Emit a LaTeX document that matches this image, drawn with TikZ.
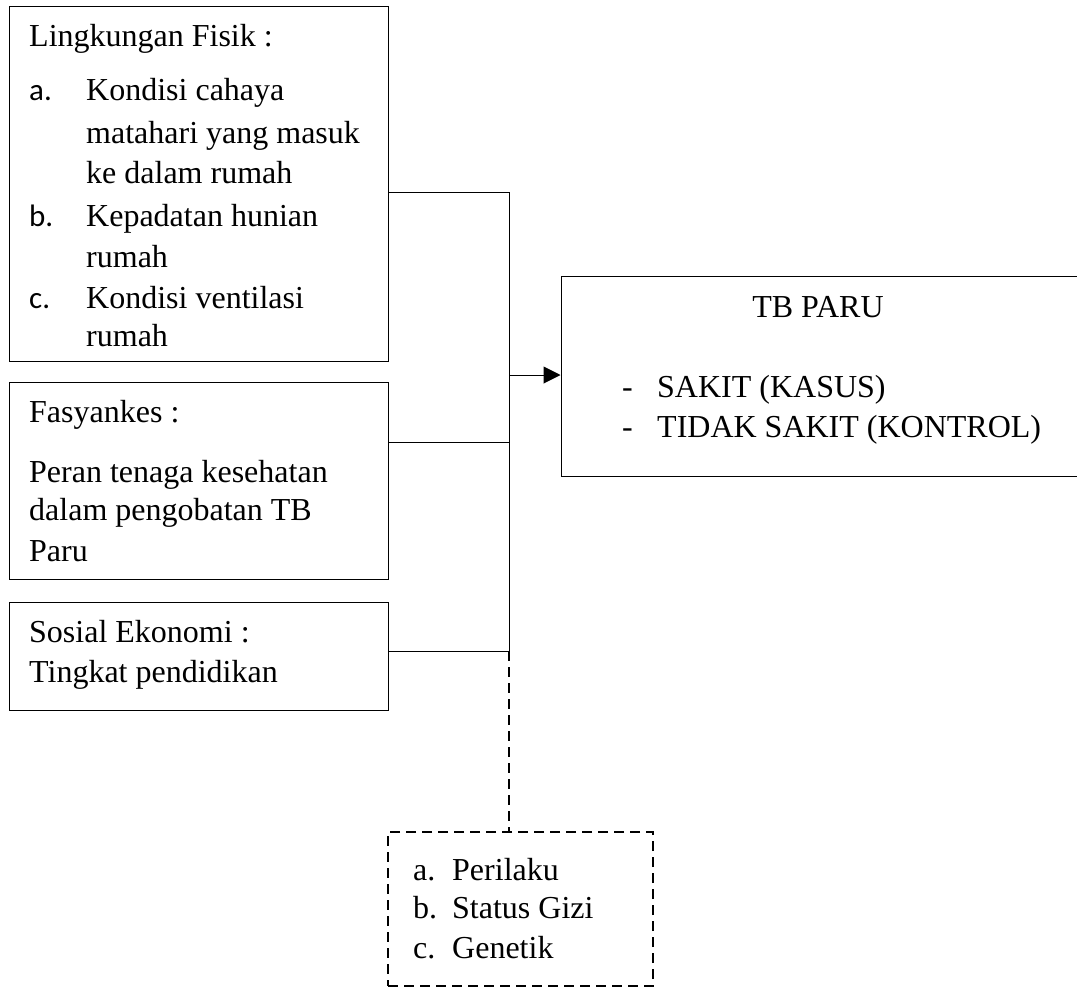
\documentclass[tikz,border=0pt]{standalone}
\usepackage{fontspec}
\setmainfont{Liberation Serif}
\newfontfamily\hurufsans{Carlito}
\usetikzlibrary{arrows.meta}
\tikzstyle{kotak} = [rectangle, draw=black, line width=1pt, inner sep=0pt]
\tikzstyle{putus} = [line width=1.8pt, dash pattern=on 10pt off 6pt]
\tikzstyle{isi} = [inner sep=0pt, anchor=base west, font=\fontsize{32}{41}\selectfont]
\tikzstyle{huruf} = [isi, font=\fontsize{31}{41}\hurufsans]
\tikzstyle{garis} = [line width=1pt]
\tikzstyle{arrow} = [line width=1pt, -{Triangle[length=17pt,width=17pt]}]

\begin{document}
\begin{tikzpicture}[x=1pt, y=-1pt]
	\useasboundingbox (0,0) rectangle (1077,991);

	% kotak-kotak
	\node (fisik) [kotak, minimum width=379pt, minimum height=355pt] at (198.5,183.5) {};
	\node (fasyankes) [kotak, minimum width=379pt, minimum height=197pt] at (198.5,480.5) {};
	\node (sosial) [kotak, minimum width=379pt, minimum height=108pt] at (198.5,656) {};
	\node (tbparu) [kotak, minimum width=529pt, minimum height=200pt] at (825.5,376) {};
	\node (faktor) [kotak, putus, minimum width=265pt, minimum height=154pt] at (520.5,909) {};

	% lingkungan fisik
	\node (judulfisik) [isi] at (29,46) {Lingkungan Fisik :};
	\node (hurufa) [huruf] at (29,100) {a.};
	\node (hurufb) [huruf] at (29,226) {b.};
	\node (hurufc) [huruf] at (29,308) {c.};
	\foreach \txt/\yy [count=\i] in {Kondisi cahaya/100, matahari yang masuk/143, ke dalam rumah/183,
		Kepadatan hunian/226, rumah/267, Kondisi ventilasi/308, rumah/346}
		\node (fisik\i) [isi] at (86,\yy) {\txt};

	% fasyankes
	\foreach \txt/\yy [count=\i] in {Fasyankes :/422, Peran tenaga kesehatan/482,
		dalam pengobatan TB/520, Paru/561}
		\node (fasyankes\i) [isi] at (29,\yy) {\txt};

	% sosial ekonomi
	\node (sosial1) [isi] at (29,642) {Sosial Ekonomi :};
	\node (sosial2) [isi] at (29,682) {Tingkat pendidikan};

	% tb paru
	\node (judulparu) [isi, anchor=base] at (818,317) {TB PARU};
	\node (strip1) [isi] at (622,397) {-};
	\node (strip2) [isi] at (622,437) {-};
	\node (sakit) [isi] at (657,397) {SAKIT (KASUS)};
	\node (tidaksakit) [isi] at (657,437) {TIDAK SAKIT (KONTROL)};

	% faktor lain
	\foreach \hrf/\txt/\yy [count=\i] in {a./Perilaku/880, b./Status Gizi/918, c./Genetik/958} {
		\node (hurufl\i) [isi] at (413,\yy) {\hrf};
		\node (faktor\i) [isi] at (452,\yy) {\txt};
	}

	\coordinate (j1) at (509,192);
	\coordinate (j2) at (509,442);
	\coordinate (j3) at (509,651);
	\coordinate (j4) at (509,375);

	\draw [garis] (fisik.east |- j1) -- (j1) -- (j3);
	\draw [garis] (fasyankes.east |- j2) -- (j2);
	\draw [garis] (sosial.east |- j3) -- (j3);
	\draw [arrow] (j4) -- (tbparu.west |- j4);
	\draw [putus, line width=1.5pt] (j3) -- (j3 |- faktor.north);
\end{tikzpicture}
\end{document}
